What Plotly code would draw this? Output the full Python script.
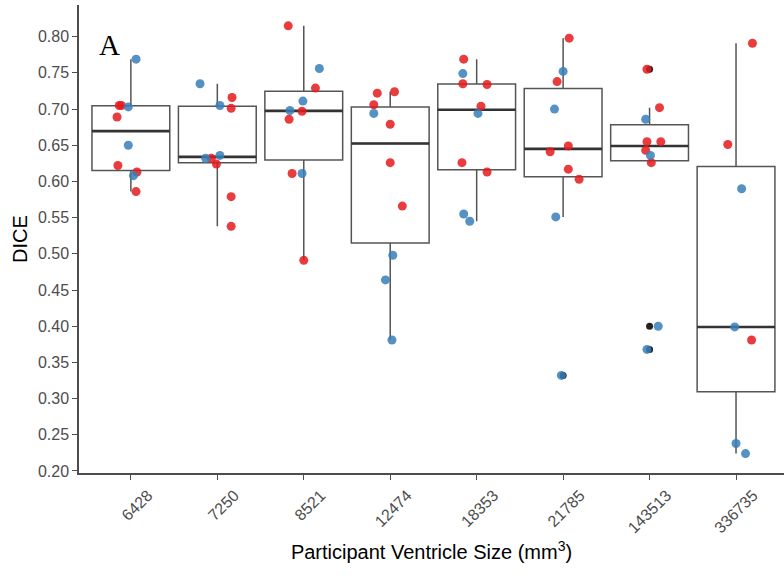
import numpy as np
import plotly.graph_objects as go

# ---- data ----
categories = ["6428", "7250", "8521", "12474", "18353", "21785", "143513", "336735"]

red_values = [
    [0.705, 0.705, 0.689, 0.622, 0.613, 0.586],
    [0.716, 0.701, 0.632, 0.624, 0.579, 0.538],
    [0.815, 0.729, 0.697, 0.686, 0.611, 0.491],
    [0.722, 0.724, 0.706, 0.679, 0.626, 0.566],
    [0.769, 0.735, 0.734, 0.704, 0.626, 0.613],
    [0.798, 0.738, 0.649, 0.641, 0.617, 0.603],
    [0.755, 0.702, 0.655, 0.655, 0.643, 0.626],
    [0.791, 0.651, 0.381],
]
red_jitter = [
    [-0.135, -0.11, -0.16, -0.15, 0.07, 0.06],
    [0.17, 0.16, -0.07, -0.01, 0.16, 0.16],
    [-0.18, 0.135, -0.02, -0.17, -0.135, 0.0],
    [-0.15, 0.05, -0.19, 0.0, 0.0, 0.14],
    [-0.15, -0.16, 0.12, 0.05, -0.17, 0.12],
    [0.07, -0.07, 0.06, -0.15, 0.06, 0.185],
    [-0.03, 0.115, -0.03, 0.13, -0.045, 0.02],
    [0.19, -0.095, 0.18],
]
blue_values = [
    [0.769, 0.703, 0.650, 0.608],
    [0.735, 0.705, 0.632, 0.636],
    [0.756, 0.711, 0.698, 0.611],
    [0.694, 0.498, 0.464, 0.381],
    [0.749, 0.694, 0.555, 0.545],
    [0.752, 0.700, 0.551, 0.332],
    [0.686, 0.636, 0.400, 0.368],
    [0.590, 0.399, 0.238, 0.224],
]
blue_jitter = [
    [0.06, -0.03, -0.03, 0.03],
    [-0.20, 0.03, -0.135, 0.03],
    [0.18, -0.01, -0.16, -0.02],
    [-0.19, 0.03, -0.055, 0.02],
    [-0.16, 0.015, -0.15, -0.08],
    [0.0, -0.10, -0.085, -0.02],
    [-0.045, 0.01, 0.10, -0.03],
    [0.065, -0.015, 0.0, 0.11],
]
y_ticks = [0.20, 0.25, 0.30, 0.35, 0.40, 0.45, 0.50, 0.55, 0.60, 0.65, 0.70, 0.75, 0.80]

RED = "#E41A1C"
BLUE = "#377EB8"
AXIS_GREY = "#4d4d4d"
BOX_GREY = "#555555"

# ---- box statistics (ggplot style: type-7 quartiles, 1.5 IQR whiskers) ----
pos = list(range(len(categories)))
q1s, meds, q3s, lows, highs = [], [], [], [], []
out_x, out_y = [], []
for i in pos:
    vals = np.array(red_values[i] + blue_values[i])
    q1, med, q3 = np.percentile(vals, [25, 50, 75])
    iqr = q3 - q1
    lo_f, hi_f = q1 - 1.5 * iqr, q3 + 1.5 * iqr
    inside = vals[(vals >= lo_f) & (vals <= hi_f)]
    q1s.append(q1); meds.append(med); q3s.append(q3)
    lows.append(inside.min()); highs.append(inside.max())
    for v in vals[(vals < lo_f) | (vals > hi_f)]:
        out_x.append(i); out_y.append(v)

fig = go.Figure()

fig.add_trace(go.Box(
    x=pos, q1=q1s, median=meds, q3=q3s, lowerfence=lows, upperfence=highs,
    width=0.9, boxpoints=False, fillcolor="rgba(0,0,0,0)",
    line=dict(color=BOX_GREY, width=1.5), whiskerwidth=0,
    showlegend=False, hoverinfo="skip",
))

# thicker median lines
mx, my = [], []
for i, m in zip(pos, meds):
    mx += [i - 0.45, i + 0.45, None]
    my += [m, m, None]
fig.add_trace(go.Scatter(x=mx, y=my, mode="lines",
                         line=dict(color="#333333", width=2.6),
                         showlegend=False, hoverinfo="skip"))

# boxplot outliers
fig.add_trace(go.Scatter(x=out_x, y=out_y, mode="markers",
                         marker=dict(color="#222222", size=7),
                         showlegend=False))

# jittered points
for vals_list, jit_list, color in [(red_values, red_jitter, RED),
                                   (blue_values, blue_jitter, BLUE)]:
    xs, ys = [], []
    for i in pos:
        for v, j in zip(vals_list[i], jit_list[i]):
            xs.append(i + j); ys.append(v)
    fig.add_trace(go.Scatter(x=xs, y=ys, mode="markers",
                             marker=dict(color=color, size=9, opacity=0.85),
                             showlegend=False))

fig.add_annotation(text="A", xref="paper", yref="paper", x=0.026, y=0.915,
                   xanchor="left", yanchor="middle", showarrow=False,
                   font=dict(family="Liberation Serif, Times New Roman, serif",
                             size=29, color="black"))

fig.update_layout(
    width=784, height=576,
    margin=dict(l=79, r=0, t=5, b=103),
    paper_bgcolor="white", plot_bgcolor="white",
    font=dict(family="Liberation Sans, Arial, sans-serif"),
    xaxis=dict(
        range=[-0.6, 7.555], tickmode="array", tickvals=pos, ticktext=categories,
        tickangle=-45, showgrid=False, zeroline=False,
        showline=True, linecolor=AXIS_GREY, linewidth=1.5,
        ticks="outside", ticklen=5, tickcolor=AXIS_GREY, tickwidth=1.2,
        tickfont=dict(size=16, color=AXIS_GREY),
        ticklabelshift=17,
        title=dict(text="Participant Ventricle Size (mm<sup>3</sup>)",
                   font=dict(size=20, color="black"), standoff=10),
        automargin=False,
    ),
    yaxis=dict(
        range=[0.1972, 0.8438], tickmode="array", tickvals=y_ticks,
        tickformat=".2f", showgrid=False, zeroline=False,
        showline=True, linecolor=AXIS_GREY, linewidth=1.5,
        ticks="outside", ticklen=5, tickcolor=AXIS_GREY, tickwidth=1.2,
        tickfont=dict(size=16, color=AXIS_GREY),
        title=dict(text="DICE", font=dict(size=20, color="black"), standoff=5),
        automargin=False,
    ),
)

fig.write_html("out.html",
               config={"displayModeBar": False},
               post_script="document.body.style.margin='0';document.body.style.overflow='hidden';")
